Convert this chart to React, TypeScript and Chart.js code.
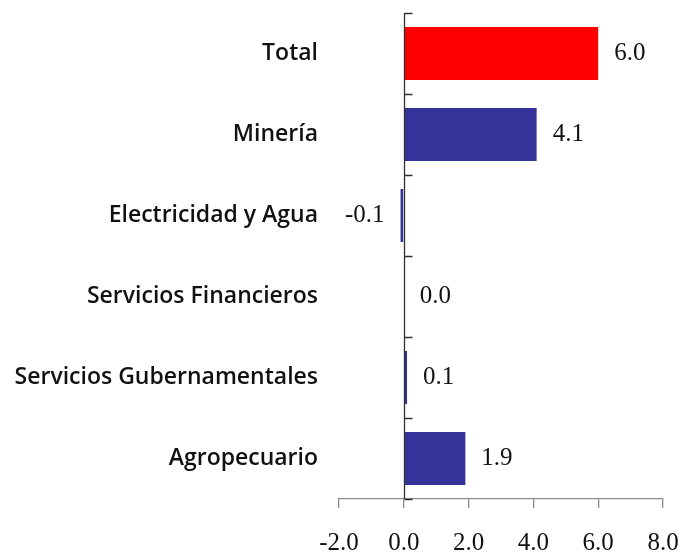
import React, { useEffect, useRef } from "react";
import { Chart, registerables } from "chart.js";

Chart.register(...registerables);

const categories = [
  "Total",
  "Minería",
  "Electricidad y Agua",
  "Servicios Financieros",
  "Servicios Gubernamentales",
  "Agropecuario",
];
const values = [6.0, 4.1, -0.1, 0.0, 0.1, 1.9];
const barColors = ["#FF0000", "#333399", "#333399", "#333399", "#333399", "#333399"];
const xMin = -2;
const xMax = 8;
const xStep = 2;

const serifFont = "'Liberation Serif', serif";
const sansFont = "'Open Sans', sans-serif";

const zeroLinePlugin = {
  id: "zeroLine",
  afterDatasetsDraw(chart: any) {
    const { ctx, chartArea } = chart;
    const xs = chart.scales.x;
    const ys = chart.scales.y;
    const x0 = Math.round(xs.getPixelForValue(0)) + 0.5;
    ctx.save();
    ctx.strokeStyle = "#303030";
    ctx.lineWidth = 1.3;
    ctx.beginPath();
    ctx.moveTo(x0, chartArea.top);
    ctx.lineTo(x0, chartArea.bottom);
    for (let i = 0; i <= categories.length; i++) {
      const y = Math.round(ys.getPixelForValue(i - 0.5)) + 0.5;
      ctx.moveTo(x0, y);
      ctx.lineTo(x0 + 8, y);
    }
    ctx.stroke();
    ctx.restore();
  },
};

const valueLabelPlugin = {
  id: "valueLabels",
  afterDatasetsDraw(chart: any) {
    const { ctx } = chart;
    const meta = chart.getDatasetMeta(0);
    ctx.save();
    ctx.font = `25px ${serifFont}`;
    ctx.fillStyle = "#111111";
    ctx.textBaseline = "middle";
    meta.data.forEach((el: any, i: number) => {
      const v = values[i];
      const txt = v.toFixed(1);
      if (v < 0) {
        ctx.textAlign = "right";
        ctx.fillText(txt, el.x - 16, el.y);
      } else {
        ctx.textAlign = "left";
        ctx.fillText(txt, el.x + 16, el.y);
      }
    });
    ctx.restore();
  },
};

export default function App() {
  const canvasRef = useRef<HTMLCanvasElement | null>(null);

  useEffect(() => {
    document.body.style.margin = "0";
    const canvas = canvasRef.current;
    if (!canvas) return;
    const chart = new Chart(canvas, {
      type: "bar",
      data: {
        labels: categories,
        datasets: [
          {
            data: values,
            backgroundColor: barColors,
            borderWidth: 0,
            barPercentage: 0.655,
            categoryPercentage: 1,
          },
        ],
      },
      options: {
        indexAxis: "y",
        animation: false,
        responsive: true,
        maintainAspectRatio: false,
        layout: { padding: { top: 13, right: 20, left: 0, bottom: 0 } },
        plugins: {
          legend: { display: false },
          tooltip: { enabled: false },
        },
        scales: {
          x: {
            type: "linear",
            min: xMin,
            max: xMax,
            ticks: {
              stepSize: xStep,
              callback: (v: any) => Number(v).toFixed(1),
              font: { family: serifFont, size: 25 },
              color: "#111111",
              padding: 20,
              maxRotation: 0,
            },
            grid: {
              drawOnChartArea: false,
              drawTicks: true,
              tickLength: 9,
              color: "#8a8a8a",
              lineWidth: 1.3,
            },
            border: { display: true, color: "#8a8a8a", width: 1.3 },
            afterFit: (scale: any) => {
              scale.height = 53;
              scale.paddingLeft = 0;
              scale.paddingRight = 0;
            },
          },
          y: {
            type: "category",
            ticks: {
              font: { family: sansFont, size: 23, weight: 600 },
              color: "#111111",
              padding: 21,
            },
            grid: { display: false, drawTicks: false },
            border: { display: false },
            afterFit: (scale: any) => {
              scale.width = 339;
              scale.paddingTop = 0;
              scale.paddingBottom = 0;
            },
          },
        },
      },
      plugins: [zeroLinePlugin, valueLabelPlugin],
    });
    return () => chart.destroy();
  }, []);

  return (
    <div style={{ width: 683, height: 552, position: "relative" }}>
      <canvas ref={canvasRef} />
    </div>
  );
}
